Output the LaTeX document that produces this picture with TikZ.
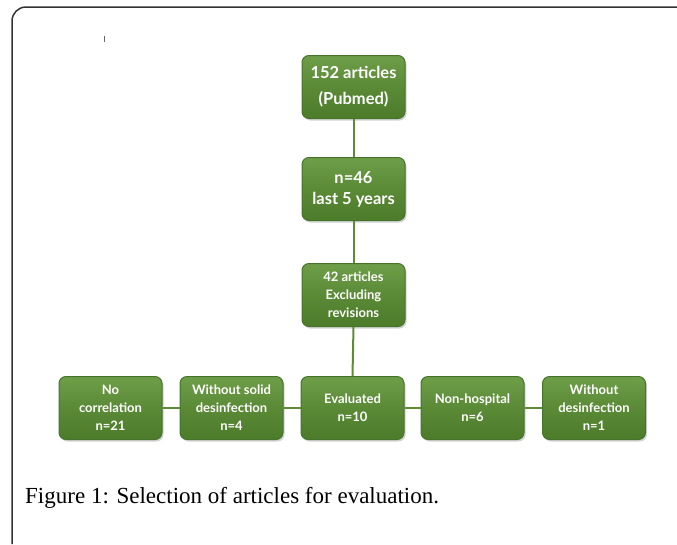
\documentclass[tikz,border=0pt]{standalone}
\usepackage{fontspec}
\setmainfont{Liberation Serif}
\newfontfamily\boxfont{Lato}
\usetikzlibrary{shadows}
\definecolor{boxgreen}{HTML}{5A8A36}
\definecolor{boxtop}{HTML}{6E9E48}
\definecolor{boxbot}{HTML}{4C7C2A}
\definecolor{boxedge}{HTML}{46742A}
\definecolor{linegreen}{HTML}{5E8C36}
\tikzset{
  gbox/.style={draw=boxedge, line width=1pt, rounded corners=7pt,
    top color=boxtop, bottom color=boxbot, middle color=boxgreen,
    minimum width=103pt, minimum height=63pt, inner sep=2pt,
    align=center, text=white, font=\boxfont\bfseries,
    drop shadow={shadow xshift=1.5pt, shadow yshift=-2pt, opacity=0.35}},
  big/.style={font=\boxfont\bfseries\fontsize{16.5}{26}\selectfont},
  mid/.style={font=\boxfont\bfseries\fontsize{16.5}{21}\selectfont},
  small/.style={font=\boxfont\bfseries\fontsize{13}{18}\selectfont},
  link/.style={draw=linegreen, line width=2pt},
}
\begin{document}
\begin{tikzpicture}[x=1pt,y=-1pt]
\useasboundingbox (0,0) rectangle (677,544);
% frame
\draw[line width=1.5pt, color=black!80, rounded corners=14pt] (12,544) -- (12,7) -- (677,7);
\draw[line width=0.8pt, color=black!60] (104,36) -- (104,42);
% nodes
\node[gbox, big] (a) at (353.5,87) {152 articles\\(Pubmed)};
\node[gbox, mid] (b) at (353.5,189) {n=46\\last 5 years};
\node[gbox, small] (c) at (353.5,295) {42 articles\\Excluding\\revisions};
\node[gbox, small] (d1) at (110.5,408) {No\\correlation\\n=21};
\node[gbox, small] (d2) at (231.5,408) {Without solid\\desinfection\\n=4};
\node[gbox, small] (d3) at (352.5,408) {Evaluated\\n=10};
\node[gbox, small] (d4) at (472.5,408) {Non-hospital\\n=6};
\node[gbox, small] (d5) at (594,408) {Without\\desinfection\\n=1};
% connectors
\path[link] (a.south) -- (b.north);
\path[link] (b.south) -- (c.north);
\path[link] (c.south) -- (d3.north);
\path[link] (d1.east) -- (d2.west);
\path[link] (d2.east) -- (d3.west);
\path[link] (d3.east) -- (d4.west);
\path[link] (d4.east) -- (d5.west);
% caption
\node[anchor=base west, inner sep=0pt, font=\fontsize{23}{26}\selectfont] (cap) at (25,503) {Figure 1: Selection of articles for evaluation.};
\end{tikzpicture}
\end{document}
